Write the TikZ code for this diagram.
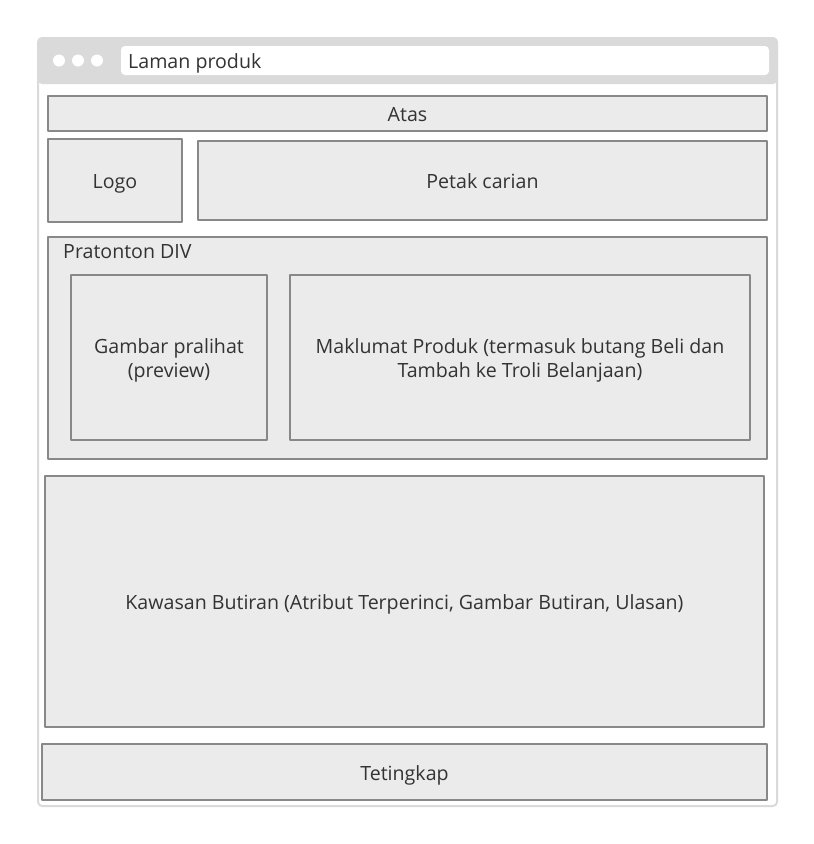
\documentclass[tikz,border=0pt]{standalone}
\usepackage{fontspec}
\setmainfont{Open Sans}
\definecolor{vien}{HTML}{888888}
\definecolor{nen}{HTML}{EBEBEB}
\definecolor{khung}{HTML}{DADADA}
\definecolor{chu}{HTML}{333333}
\begin{document}
\begin{tikzpicture}[x=1pt,y=-1pt, line join=round,
	hop/.style={draw=vien, fill=nen, line width=2.6pt, inner sep=0pt, text=chu, align=center, text height=20pt, text depth=3.4pt, font=\fontsize{19.6}{24}\selectfont},
	hai/.style={text height=44pt},
	nhan/.style={text=chu, inner sep=0pt, font=\fontsize{19.6}{24}\selectfont}]
	\useasboundingbox (0,0) rectangle (814,844);
	% Khung trinh duyet
	\fill[khung, rounded corners=4pt] (38,38) rectangle (777,84);
	\draw[khung, line width=2pt, rounded corners=4pt] (38,38) rectangle (777,806);
	\fill[white, rounded corners=4pt] (121,46) rectangle (769,75);
	\foreach \x in {59,78,97} \fill[white] (\x,60.5) circle (6);
	\node[nhan, anchor=base west] (tieude) at (128,68) {Laman produk};
	% Cac hop
	\node[hop, minimum width=719, minimum height=35] (atas) at (407.5,113.5) {Atas};
	\node[hop, minimum width=134, minimum height=83] (logo) at (115,180.5) {Logo};
	\node[hop, minimum width=569, minimum height=79] (cari) at (482.5,180.5) {Petak carian};
	\node[hop, minimum width=719, minimum height=222] (div) at (407.5,348) {};
	\node[nhan, anchor=base west] (divten) at (63,258) {Pratonton DIV};
	\node[hop, hai, minimum width=196, minimum height=165] (gambar) at (169,357.5) {Gambar pralihat\\(preview)};
	\node[hop, hai, minimum width=460, minimum height=165] (info) at (520,357.5) {Maklumat Produk (termasuk butang Beli dan\\Tambah ke Troli Belanjaan)};
	\node[hop, minimum width=719, minimum height=251] (butiran) at (404.5,601.5) {Kawasan Butiran (Atribut Terperinci, Gambar Butiran, Ulasan)};
	\node[hop, minimum width=725, minimum height=56] (kaki) at (404.5,772) {Tetingkap};
\end{tikzpicture}
\end{document}
